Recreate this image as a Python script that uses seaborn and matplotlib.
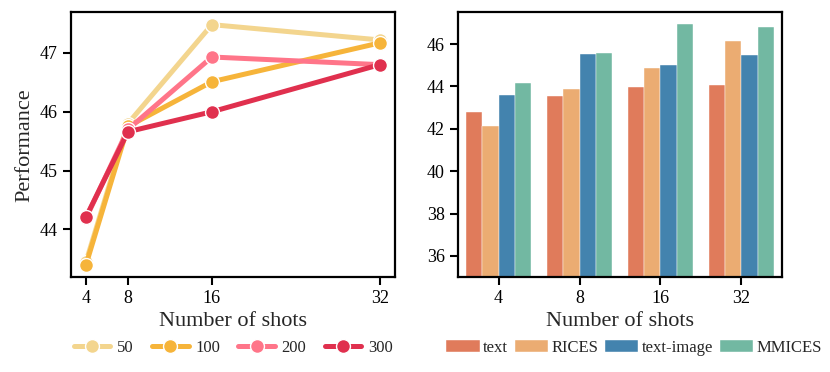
import pandas as pd
import matplotlib.pyplot as plt
import seaborn as sns

# left panel: performance vs shots for different pool sizes
shots = [4, 8, 16, 32]
sizes = ["50", "100", "200", "300"]
perf_50 = [43.45, 45.80, 47.48, 47.22]
perf_100 = [43.40, 45.75, 46.51, 47.17]
perf_200 = [44.19, 45.70, 46.93, 46.80]
perf_300 = [44.21, 45.66, 46.00, 46.80]
line_colors = ["#F3D58E", "#F6B43A", "#FF7589", "#E0304E"]

# right panel: bars per demonstration-selection method
methods = ["text", "RICES", "text-image", "MMICES"]
bar_text = [42.78, 43.53, 43.99, 44.06]
bar_rices = [42.12, 43.86, 44.89, 46.15]
bar_text_image = [43.59, 45.52, 45.00, 45.49]
bar_mmices = [44.17, 45.60, 46.95, 46.79]
bar_colors = ["#E07B5B", "#EBAC72", "#4383AE", "#72B8A2"]

sns.set_theme(style="ticks")
plt.rcParams['font.family'] = ['Liberation Serif', 'DejaVu Serif']
plt.rcParams['mathtext.fontset'] = 'stix'

df_line = pd.DataFrame({
    "shots": shots * 4,
    "perf": perf_50 + perf_100 + perf_200 + perf_300,
    "size": [s for s in sizes for _ in shots],
})
df_bar = pd.DataFrame({
    "shots": [str(s) for s in shots] * 4,
    "perf": bar_text + bar_rices + bar_text_image + bar_mmices,
    "method": [m for m in methods for _ in shots],
})

fig = plt.figure(figsize=(8.3, 3.72), dpi=100)
ax1 = fig.add_axes([0.0855, 0.255, 0.391, 0.712])
ax2 = fig.add_axes([0.552, 0.255, 0.390, 0.712])

sns.lineplot(data=df_line, x="shots", y="perf", hue="size", palette=line_colors,
             marker="o", markersize=10, linewidth=3.6, markeredgecolor="white",
             markeredgewidth=1.0, ax=ax1)
ax1.set_xticks(shots)
ax1.set_xlim(2.57, 33.5)
ax1.set_ylim(43.19, 47.69)
ax1.set_yticks([44, 45, 46, 47])
ax1.set_xlabel("Number of shots", fontsize=16, labelpad=3)
ax1.set_ylabel("Performance", fontsize=16)
ax1.legend(loc='center', bbox_to_anchor=(0.5, -0.268), ncol=4, frameon=False,
           fontsize=12, handlelength=2.2, columnspacing=1.1, handletextpad=0.4,
           borderpad=0, borderaxespad=0)

sns.barplot(data=df_bar, x="shots", y="perf", hue="method", palette=bar_colors,
            saturation=1, edgecolor="white", linewidth=0.3, ax=ax2)
ax2.set_ylim(35, 47.5)
ax2.set_yticks([36, 38, 40, 42, 44, 46])
ax2.set_xlabel("Number of shots", fontsize=16, labelpad=3)
ax2.set_ylabel("")
ax2.legend(loc='center', bbox_to_anchor=(0.543, -0.268), ncol=4, frameon=False,
           fontsize=12, handlelength=2.0, columnspacing=0.4, handletextpad=0.2,
           borderpad=0, borderaxespad=0)

for ax in (ax1, ax2):
    for sp in ax.spines.values():
        sp.set_linewidth(1.6)
        sp.set_color("black")
    ax.tick_params(axis='both', labelsize=13, width=1.5, length=6, colors="black")

plt.savefig("out.png")
